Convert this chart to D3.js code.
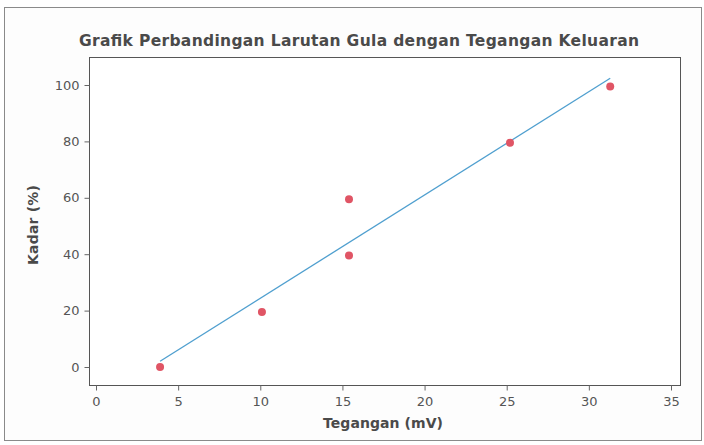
<!DOCTYPE html>
<html><head><meta charset="utf-8">
<script src="https://cdn.jsdelivr.net/npm/d3@7/dist/d3.min.js"></script>
<style>
html,body{margin:0;padding:0;background:#fff;}
svg{display:block;}
</style></head>
<body>
<svg id="c" width="704" height="445"></svg>
<script>
const title = "Grafik Perbandingan Larutan Gula dengan Tegangan Keluaran";
const xLabel = "Tegangan (mV)";
const yLabel = "Kadar (%)";
const tegangan = [3.9, 10.1, 15.4, 15.4, 25.2, 31.3];
const kadar = [0, 19.5, 39.5, 59.5, 79.5, 99.5];
const xTicks = [0, 5, 10, 15, 20, 25, 30, 35];
const yTicks = [0, 20, 40, 60, 80, 100];

const svg = d3.select("#c");
const font = "'DejaVu Sans', Verdana, sans-serif";

// outer scan border
svg.append("rect").attr("x", 4.5).attr("y", 7.5).attr("width", 697).attr("height", 433)
  .attr("fill", "#fdfdfd").attr("stroke", "#8a8a8a").attr("stroke-width", 1);

const frame = {l: 89.5, t: 57.5, r: 680.5, b: 385.5};
const x = d3.scaleLinear().domain([0, 35]).range([96, 671]);
const y = d3.scaleLinear().domain([0, 100]).range([367, 85]);

svg.append("rect").attr("x", frame.l).attr("y", frame.t)
  .attr("width", frame.r - frame.l).attr("height", frame.b - frame.t)
  .attr("fill", "#fff").attr("stroke", "#555").attr("stroke-width", 1);

// title
svg.append("text").attr("x", 359).attr("y", 46).attr("text-anchor", "middle")
  .attr("font-family", font).attr("font-weight", "bold").attr("font-size", 15.5)
  .attr("textLength", 560).attr("lengthAdjust", "spacing")
  .attr("fill", "#4a4a4a").text(title);

// x axis
const xAxis = d3.axisBottom(x).tickValues(xTicks).tickSize(5).tickPadding(6).tickFormat(d3.format("d"));
const gx = svg.append("g").attr("transform", `translate(0,${frame.b})`).call(xAxis);
gx.select(".domain").remove();
gx.selectAll("line").attr("stroke", "#666");
gx.selectAll("text").attr("font-family", font).attr("font-size", 13).attr("fill", "#555");

// y axis
const yAxis = d3.axisLeft(y).tickValues(yTicks).tickSize(5).tickPadding(5).tickFormat(d3.format("d"));
const gy = svg.append("g").attr("transform", `translate(${frame.l},0)`).call(yAxis);
gy.select(".domain").remove();
gy.selectAll("line").attr("stroke", "#666");
gy.selectAll("text").attr("font-family", font).attr("font-size", 13).attr("fill", "#555");

// axis titles
svg.append("text").attr("x", 383).attr("y", 428).attr("text-anchor", "middle")
  .attr("font-family", font).attr("font-weight", "bold").attr("font-size", 14)
  .attr("textLength", 120).attr("lengthAdjust", "spacing")
  .attr("fill", "#4a4a4a").text(xLabel);
svg.append("text").attr("transform", "translate(38,225) rotate(-90)").attr("text-anchor", "middle")
  .attr("font-family", font).attr("font-weight", "bold").attr("font-size", 14)
  .attr("textLength", 80).attr("lengthAdjust", "spacing")
  .attr("fill", "#4a4a4a").text(yLabel);

// linear regression trendline
const n = tegangan.length;
const mx = d3.mean(tegangan), my = d3.mean(kadar);
let sxy = 0, sxx = 0;
for (let i = 0; i < n; i++) { sxy += (tegangan[i]-mx)*(kadar[i]-my); sxx += (tegangan[i]-mx)**2; }
const slope = sxy / sxx, icpt = my - slope * mx;
const xe = d3.extent(tegangan);
svg.append("line")
  .attr("x1", x(xe[0])).attr("y1", y(icpt + slope*xe[0]))
  .attr("x2", x(xe[1])).attr("y2", y(icpt + slope*xe[1]))
  .attr("stroke", "#4f9fcf").attr("stroke-width", 1.3);

// points
svg.append("g").selectAll("circle").data(tegangan).join("circle")
  .attr("cx", d => x(d)).attr("cy", (d, i) => y(kadar[i])).attr("r", 4)
  .attr("fill", "#e05565");
</script>
</body></html>
